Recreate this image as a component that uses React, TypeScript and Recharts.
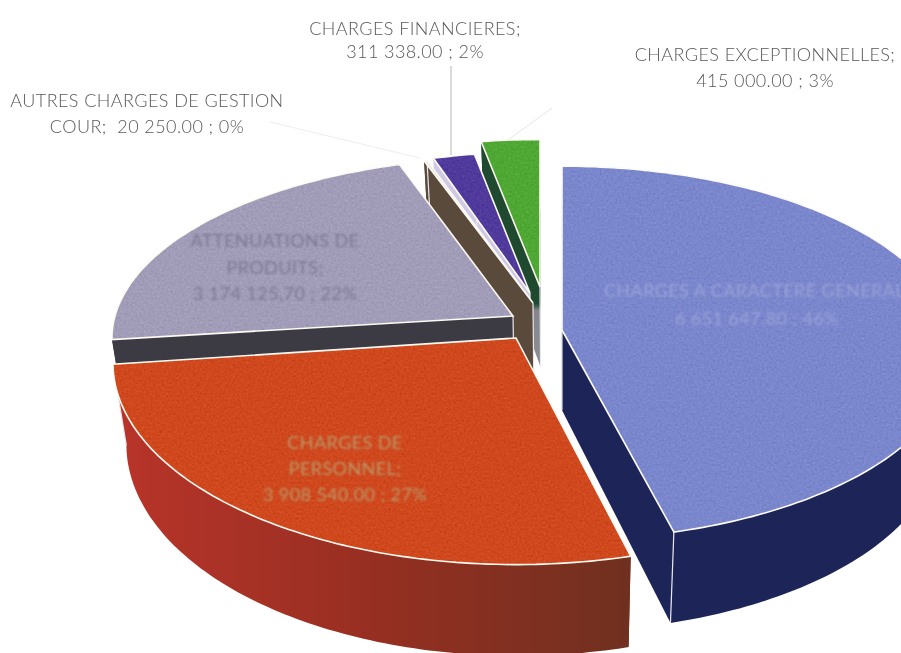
import React from 'react';
import { PieChart, Pie } from 'recharts';

// ─── Data (drawn counter-clockwise from the top, so back slices are painted first) ──

const CATEGORIES = [
  'CHARGES EXCEPTIONNELLES',
  'CHARGES FINANCIERES',
  'AUTRES CHARGES DE GESTION COUR',
  'ATTENUATIONS DE PRODUITS',
  'CHARGES DE PERSONNEL',
  'CHARGES A CARACTERE GENERAL',
];
const VALUES = [415000, 311338, 20250, 3174125.7, 3908540, 6651647.8];
const LABEL_LINES = [
  ['CHARGES EXCEPTIONNELLES;', '415 000.00 ; 3%'],
  ['CHARGES FINANCIERES;', '311 338.00 ; 2%'],
  ['AUTRES CHARGES DE GESTION', 'COUR;  20 250.00 ; 0%'],
  ['ATTENUATIONS DE', 'PRODUITS;', '3 174 125,70 ; 22%'],
  ['CHARGES DE', 'PERSONNEL;', '3 908 540.00 ; 27%'],
  ['CHARGES A CARACTERE GENERAL;', '6 651 647.80 ; 46%'],
];

const rows = CATEGORIES.map((name, i) => ({ name, value: VALUES[i] }));

// ─── Fake 3D look: where each exploded slice sits and how it is coloured ──

const W = 901;
const H = 653;
const RADIUS = 400;
const TILT = 184; // vertical radius of the ellipse
const PERSPECTIVE = 0.123;
const DEPTH = 80;
const VANISH_X = 560; // walls lean slightly toward this x

interface SliceLook {
  ax: number;
  ay: number;
  sx: number;
  sy: number;
  top: string;
  wall: string;
}

const LOOKS: SliceLook[] = [
  { ax: 540, ay: 287, sx: 0.92, sy: 0.9, top: '#4fa833', wall: 'url(#greenWall)' },
  { ax: 530, ay: 293, sx: 0.87, sy: 0.86, top: '#503a9c', wall: '#cfc9e6' },
  { ax: 533, ay: 303, sx: 0.955, sy: 0.91, top: '#e4dfe6', wall: '#5a4a3b' },
  { ax: 513, ay: 316, sx: 0.995, sy: 0.97, top: '#a19db8', wall: '#3c3b43' },
  { ax: 516, ay: 338, sx: 1, sy: 1.08, top: '#d0481d', wall: 'url(#redWall)' },
  { ax: 562, ay: 330, sx: 0.975, sy: 1, top: '#7b87cd', wall: '#1d2558' },
];

const LABEL_STYLE = [
  { x: 765, y: 61, gap: 26, fill: '#585858' },
  { x: 415, y: 35, gap: 23, fill: '#585858' },
  { x: 147, y: 107, gap: 26, fill: '#585858' },
  { x: 275, y: 247, gap: 26.5, fill: '#7d7994' },
  { x: 345, y: 449, gap: 26, fill: '#b89a6c' },
  { x: 757, y: 297, gap: 27.5, fill: '#99a2d8' },
];

const LEADERS = [
  { x1: 508, y1: 140, x2: 552, y2: 108, stroke: '#e6e6e6' },
  { x1: 451, y1: 66, x2: 451, y2: 155, stroke: '#b4b4b4' },
  { x1: 270, y1: 122, x2: 420, y2: 158, stroke: '#eeeeee' },
];

// ─── Projection of a pie angle on the tilted plane ──

function rimPoint(look: SliceLook, angle: number) {
  const rad = (angle * Math.PI) / 180;
  const u = Math.cos(rad);
  const v = -Math.sin(rad);
  const s = 1 / (1 - PERSPECTIVE * v);
  return {
    x: look.ax + RADIUS * u * s * look.sx,
    y: look.ay + TILT * v * s * look.sy,
    d: DEPTH * s,
  };
}

const toPoints = (pts: { x: number; y: number }[]) =>
  pts.map((p) => `${p.x.toFixed(1)},${p.y.toFixed(1)}`).join(' ');

function SliceShape(props: any): React.ReactElement {
  const look = LOOKS[CATEGORIES.indexOf(props.name)]!;
  const rim: { x: number; y: number; d: number }[] = [];
  for (let a = props.startAngle; a < props.endAngle; a += 1) rim.push(rimPoint(look, a));
  rim.push(rimPoint(look, props.endAngle));

  const apex = { x: look.ax, y: look.ay, d: DEPTH };
  const drop = (p: { x: number; y: number; d: number }) => ({
    x: p.x + (VANISH_X - p.x) * 0.03,
    y: p.y + p.d,
  });
  const first = rim[0]!;
  const last = rim[rim.length - 1]!;
  const wallPts = [...rim, ...rim.slice().reverse().map(drop)];
  const firstDrop = drop(first);
  const apexDrop = drop(apex);

  return (
    <g>
      <polygon points={toPoints([apex, last, drop(last), apexDrop])} fill={look.wall} />
      <polygon points={toPoints([apex, first, firstDrop, apexDrop])} fill={look.wall} />
      <polygon points={toPoints(wallPts)} fill={look.wall} />
      <line x1={first.x} y1={first.y} x2={firstDrop.x} y2={firstDrop.y} stroke="#e8e8ee" strokeWidth={1.2} />
      <line x1={apex.x} y1={apex.y} x2={apexDrop.x} y2={apexDrop.y} stroke="#e8e8ee" strokeWidth={1.2} />
      <polygon points={toPoints([apex, ...rim])} fill={look.top} filter="url(#grain)" />
      <polygon points={toPoints([apex, ...rim])} fill="none" stroke="#fdfaf2" strokeWidth={1.6} />
    </g>
  );
}

function SliceLabel(props: any): React.ReactElement {
  const i = CATEGORIES.indexOf(props.name);
  const st = LABEL_STYLE[i]!;
  const leader = LEADERS[i];
  return (
    <g>
      {leader && <line {...leader} strokeWidth={1} />}
      <text
        textAnchor="middle"
        fontFamily="Lato, sans-serif"
        fontSize={18}
        fontWeight={i >= 3 ? 400 : 300}
        letterSpacing={0.42}
        fill={st.fill}
        style={{ filter: i >= 3 ? 'blur(0.8px)' : 'blur(0.35px)' }}
      >
        {LABEL_LINES[i]!.map((line, n) => (
          <tspan key={n} x={st.x} y={st.y + n * st.gap} xmlSpace="preserve">
            {line}
          </tspan>
        ))}
      </text>
    </g>
  );
}

export default function App(): React.ReactElement {
  return (
    <div style={{ position: 'absolute', left: 0, top: 0, width: W, height: H }}>
      <PieChart width={W} height={H} margin={{ top: 0, right: 0, bottom: 0, left: 0 }}>
        <defs>
          <linearGradient id="redWall" gradientUnits="userSpaceOnUse" x1={113} y1={0} x2={630} y2={0}>
            <stop offset="0%" stopColor="#b9342a" />
            <stop offset="45%" stopColor="#9a2f22" />
            <stop offset="100%" stopColor="#70301f" />
          </linearGradient>
          <linearGradient id="greenWall" gradientUnits="userSpaceOnUse" x1={0} y1={290} x2={0} y2={375}>
            <stop offset="0%" stopColor="#1f4a30" />
            <stop offset="16%" stopColor="#1f4a30" />
            <stop offset="24%" stopColor="#85868c" />
            <stop offset="100%" stopColor="#8e8f95" />
          </linearGradient>
          <filter
            id="grain"
            filterUnits="userSpaceOnUse"
            x={0}
            y={0}
            width={W}
            height={H}
            colorInterpolationFilters="sRGB"
          >
            <feTurbulence type="fractalNoise" baseFrequency="0.45" numOctaves={2} seed={4} result="n" />
            <feColorMatrix
              in="n"
              type="matrix"
              values="0.33 0.33 0.33 0 0 0.33 0.33 0.33 0 0 0.33 0.33 0.33 0 0 0 0 0 0 1"
              result="g"
            />
            <feComposite in="SourceGraphic" in2="g" operator="arithmetic" k1={0} k2={1} k3={0.2} k4={-0.1} result="c" />
            <feComposite in="c" in2="SourceAlpha" operator="in" />
          </filter>
        </defs>
        <Pie
          data={rows}
          dataKey="value"
          nameKey="name"
          cx={540}
          cy={330}
          innerRadius={0}
          outerRadius={RADIUS}
          startAngle={90}
          endAngle={450}
          paddingAngle={0}
          stroke="none"
          isAnimationActive={false}
          shape={SliceShape}
          label={SliceLabel}
          labelLine={false}
        />
      </PieChart>
    </div>
  );
}
